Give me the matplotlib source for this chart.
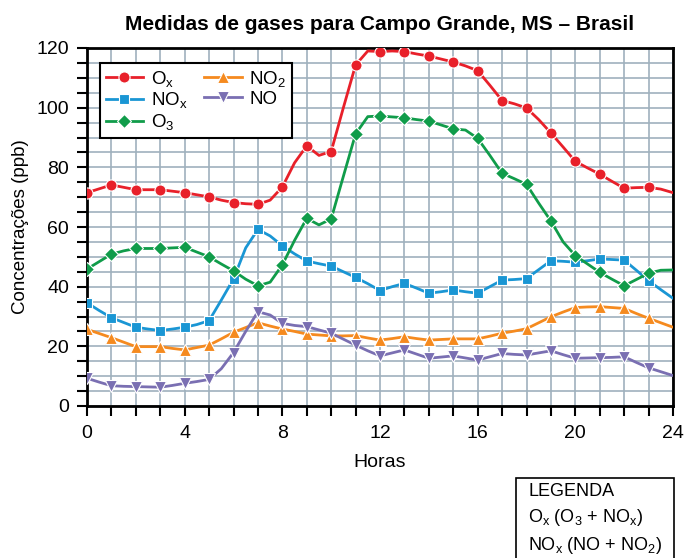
import matplotlib
matplotlib.use("Agg")
import matplotlib.pyplot as plt
import numpy as np
from matplotlib.patches import Rectangle
from matplotlib.ticker import MultipleLocator

plt.rcParams["font.family"] = ["Liberation Sans", "DejaVu Sans"]
plt.rcParams["mathtext.default"] = "regular"

# horas (meia em meia hora; marcadores nas horas cheias)
horas = np.arange(0, 24.5, 0.5)

ox = [71.5, 72.8, 74.1, 73.3, 72.5, 72.5, 72.5, 72.0, 71.5, 70.8,
      70.1, 69.0, 68.2, 67.8, 67.6, 69.0, 73.4, 81.5, 87.2, 84.0,
      85.3, 100.0, 114.3, 119.0, 118.8, 119.0, 118.8, 118.0, 117.3, 116.3,
      115.3, 114.0, 112.4, 107.5, 102.4, 101.3, 99.9, 96.0, 91.5, 86.8,
      82.0, 79.8, 77.7, 75.3, 73.0, 73.2, 73.3, 72.7, 71.5]

nox = [34.6, 32.0, 29.6, 28.0, 26.4, 25.8, 25.3, 25.8, 26.4, 27.3,
       28.6, 35.5, 42.6, 53.0, 59.2, 57.0, 53.7, 51.0, 48.6, 47.7,
       46.9, 45.0, 43.1, 41.0, 38.7, 40.0, 41.1, 39.5, 37.8, 38.3,
       38.9, 38.3, 37.8, 40.0, 42.2, 42.4, 42.7, 45.7, 48.7, 48.5,
       48.2, 48.7, 49.3, 49.1, 48.9, 45.5, 42.0, 39.0, 36.1]

o3 = [45.9, 48.4, 50.9, 52.0, 52.8, 52.8, 52.8, 53.0, 53.2, 51.6,
      50.0, 47.6, 45.3, 42.5, 40.3, 41.5, 47.3, 55.5, 62.9, 60.7,
      62.7, 77.0, 91.2, 97.0, 97.2, 96.9, 96.6, 96.0, 95.5, 94.2,
      92.9, 92.5, 89.7, 84.0, 78.0, 76.2, 74.3, 68.0, 62.0, 55.0,
      50.4, 47.6, 44.8, 42.5, 40.3, 42.4, 44.5, 45.5, 45.6]

no2 = [25.7, 24.3, 22.9, 21.4, 19.9, 19.9, 19.9, 19.3, 18.8, 19.6,
       20.4, 22.5, 24.7, 26.3, 27.9, 26.8, 25.8, 25.0, 24.1, 23.8,
       23.5, 23.5, 23.6, 22.8, 22.1, 22.6, 23.2, 22.6, 22.1, 22.3,
       22.5, 22.5, 22.5, 23.4, 24.4, 25.1, 25.9, 27.9, 29.9, 31.5,
       33.0, 33.2, 33.3, 33.0, 32.7, 31.0, 29.4, 27.9, 26.4]

no = [9.3, 8.0, 6.8, 6.6, 6.5, 6.4, 6.3, 6.9, 7.6, 8.2,
      8.9, 12.5, 17.9, 25.0, 31.6, 30.5, 27.7, 27.0, 26.6, 25.5,
      24.4, 22.4, 20.4, 18.5, 16.8, 17.8, 18.8, 17.4, 16.0, 16.4,
      16.8, 16.1, 15.4, 16.5, 17.6, 17.3, 17.1, 17.8, 18.5, 17.2,
      16.0, 16.1, 16.2, 16.3, 16.5, 14.6, 12.8, 11.5, 10.2]

series = [
    (ox, "O$_x$", "#e8202a", "o", 8),
    (nox, "NO$_x$", "#1a96d4", "s", 7.5),
    (o3, "O$_3$", "#109c4a", "D", 7.5),
    (no2, "NO$_2$", "#f58a1f", "^", 8.5),
    (no, "NO", "#7a6fb2", "v", 8.5),
]

fig = plt.figure(figsize=(6.88, 5.58), dpi=100)
ax = fig.add_axes([87 / 688, 1 - 406 / 558, (673 - 87) / 688, (406 - 48) / 558])

handles = []
for vals, lab, cor, mk, ms in series:
    (h,) = ax.plot(horas, vals, color=cor, lw=2.0, marker=mk, markersize=ms,
                   markeredgecolor="white", markeredgewidth=0.8,
                   markevery=slice(0, 48, 2), label=lab, zorder=3)
    handles.append(h)

ax.set_xlim(0, 24)
ax.set_ylim(0, 120)
ax.xaxis.set_major_locator(MultipleLocator(4))
ax.xaxis.set_minor_locator(MultipleLocator(1))
ax.yaxis.set_major_locator(MultipleLocator(20))
ax.yaxis.set_minor_locator(MultipleLocator(5))
ax.grid(True, which="both", color="#9fb0bd", lw=1.2, zorder=0)
ax.set_axisbelow(True)
ax.tick_params(which="both", direction="out", length=7, width=1.5, labelsize=14)
ax.tick_params(axis="y", which="both", pad=6)
ax.tick_params(axis="x", which="both", pad=7)
for s in ax.spines.values():
    s.set_linewidth(2)

ax.set_xlabel("Horas", fontsize=14, labelpad=8)
ax.set_ylabel("Concentrações (ppb)", fontsize=13.5, labelpad=5)
ax.set_title("Medidas de gases para Campo Grande, MS – Brasil",
             fontsize=15, fontweight="bold", pad=13)

# ordem para preencher coluna a coluna: Ox, NOx, O3 | NO2, NO
leg = ax.legend(handles=handles, loc="upper left", ncol=2, fontsize=13.5,
                bbox_to_anchor=(13 / 586, 1 - 15 / 358), borderaxespad=0,
                frameon=True, fancybox=False, edgecolor="black", framealpha=1,
                handlelength=2.0, handletextpad=0.4, columnspacing=0.9,
                labelspacing=0.1, borderpad=0.3)
leg.get_frame().set_linewidth(1.5)

# caixa "LEGENDA"
fig.patches.append(Rectangle((516 / 688, -0.02), (674 - 516) / 688, (0.02 + 1 - 478 / 558),
                             transform=fig.transFigure, fill=False,
                             edgecolor="black", lw=1.2))
fig.text(528 / 688, 1 - 492 / 558, "LEGENDA", fontsize=13, va="center")
fig.text(528 / 688, 1 - 518 / 558, "O$_x$ (O$_3$ + NO$_x$)", fontsize=13, va="center")
fig.text(528 / 688, 1 - 545 / 558, "NO$_x$ (NO + NO$_2$)", fontsize=13, va="center")

fig.savefig("out.png", dpi=100)
